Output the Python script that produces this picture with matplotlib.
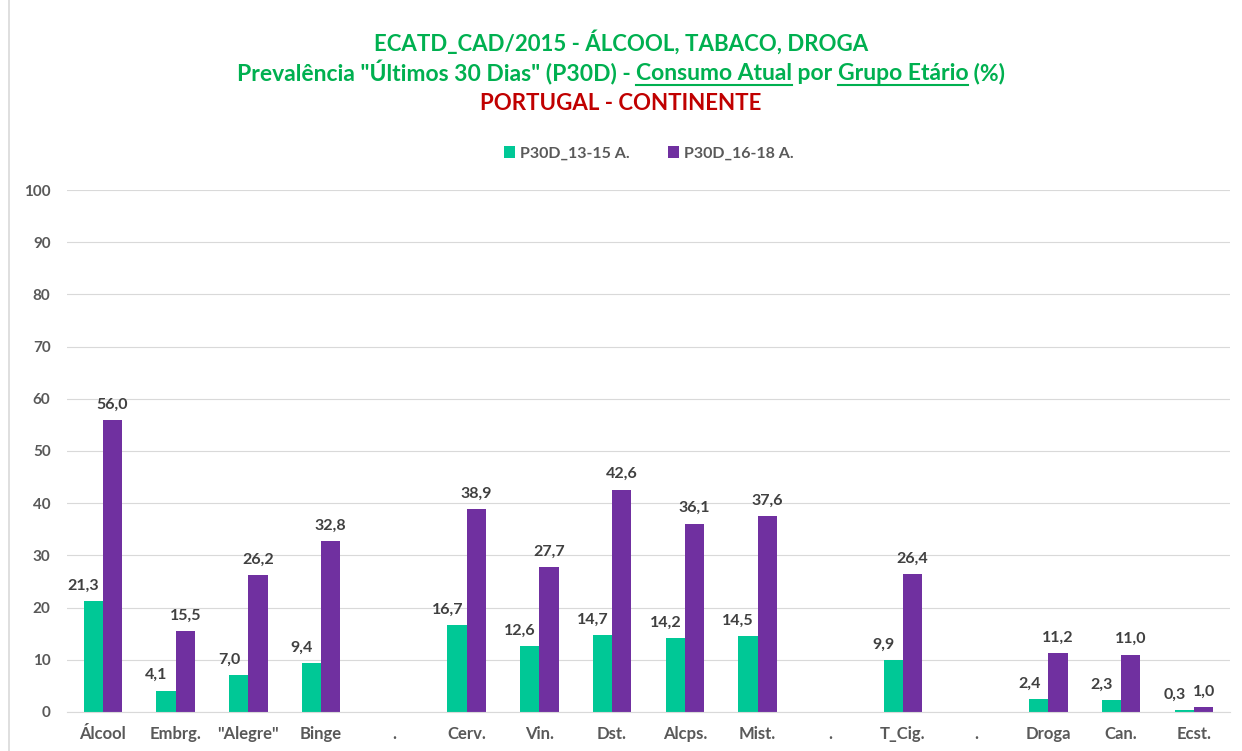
import matplotlib.pyplot as plt
import numpy as np
from matplotlib.lines import Line2D

plt.rcParams['font.family'] = ['Lato', 'DejaVu Sans']

# Data
categories = ['Álcool', 'Embrg.', '"Alegre"', 'Binge', '.', 'Cerv.', 'Vin.', 'Dst.',
              'Alcps.', 'Mist.', '.', 'T_Cig.', '.', 'Droga', 'Can.', 'Ecst.']
p30d_13_15 = [21.3, 4.1, 7.0, 9.4, np.nan, 16.7, 12.6, 14.7, 14.2, 14.5, np.nan, 9.9, np.nan, 2.4, 2.3, 0.3]
p30d_16_18 = [56.0, 15.5, 26.2, 32.8, np.nan, 38.9, 27.7, 42.6, 36.1, 37.6, np.nan, 26.4, np.nan, 11.2, 11.0, 1.0]
series_names = ['P30D_13-15 A.', 'P30D_16-18 A.']

teal = '#00C896'
purple = '#7030A0'
green = '#00B050'
red = '#C00000'
label_col = '#404040'
tick_col = '#595959'

fig = plt.figure(figsize=(12.42, 7.51), dpi=100)
ax = fig.add_axes([0.0536, 0.052, 0.937, 0.695])

x = np.arange(len(categories))
w = 0.265
ax.bar(x - w / 2, p30d_13_15, width=w, color=teal, label=series_names[0])
ax.bar(x + w / 2, p30d_16_18, width=w, color=purple, label=series_names[1])

# data labels
for xi, v in zip(x, p30d_13_15):
    if not np.isnan(v):
        ax.annotate(f'{v:.1f}'.replace('.', ','), (xi - w / 2, v), xytext=(-7, 6),
                    textcoords='offset points', ha='center', va='bottom',
                    fontsize=11.5, fontweight='bold', color=label_col)
for xi, v in zip(x, p30d_16_18):
    if not np.isnan(v):
        ax.annotate(f'{v:.1f}'.replace('.', ','), (xi + w / 2, v), xytext=(0, 6),
                    textcoords='offset points', ha='center', va='bottom',
                    fontsize=11.5, fontweight='bold', color=label_col)

ax.set_xlim(-0.5, len(categories) - 0.5)
ax.set_ylim(0, 100)
ax.set_yticks(np.arange(0, 101, 10))
ax.set_xticks(x)
ax.set_xticklabels(categories)
ax.tick_params(axis='both', length=0, colors=tick_col)
ax.tick_params(axis='x', pad=10, labelsize=12)
ax.tick_params(axis='y', pad=11.5, labelsize=11)
for lab in ax.get_xticklabels() + ax.get_yticklabels():
    lab.set_fontweight('bold')
ax.grid(axis='y', color='#D9D9D9', linewidth=0.8)
ax.set_axisbelow(True)
for s in ['top', 'right', 'left']:
    ax.spines[s].set_visible(False)
ax.spines['bottom'].set_color('#D9D9D9')

ax.legend(loc='center', bbox_to_anchor=(0.5, 1.07), ncol=2, frameon=False,
          handlelength=0.7, handleheight=0.7, columnspacing=2.4,
          handletextpad=0.3, labelcolor=tick_col, prop={'weight': 'bold', 'size': 11.5})

# titles
fig.text(0.5, 1 - 42 / 751, 'ECATD_CAD/2015 - ÁLCOOL, TABACO, DROGA', ha='center', va='center',
         fontsize=16, fontweight='bold', color=green)
fig.text(0.5, 1 - 104 / 751, 'PORTUGAL - CONTINENTE', ha='center', va='center',
         fontsize=16, fontweight='bold', color=red)

# second title line with underlined words
pieces = [('Prevalência "Últimos 30 Dias" (P30D) - ', False), ('Consumo Atual', True),
          (' por ', False), ('Grupo Etário', True), (' (%)', False)]
fig.canvas.draw()
renderer = fig.canvas.get_renderer()
texts = []
y2 = 1 - 73 / 751
for s, u in pieces:
    t = fig.text(0, y2, s, ha='left', va='center', fontsize=16.5, fontweight='bold', color=green)
    texts.append(t)
widths = [t.get_window_extent(renderer).width for t in texts]
total = sum(widths)
start = 1242 / 2 - total / 2
for t, wd, (s, u) in zip(texts, widths, pieces):
    t.set_x(start / 1242)
    if u:
        bb = t.get_window_extent(renderer)
        yl = (bb.y0 - 1) / 751
        fig.add_artist(Line2D([start / 1242, (start + wd) / 1242], [yl, yl],
                              color=green, linewidth=1.5, transform=fig.transFigure))
    start += wd

# left frame line
fig.add_artist(Line2D([9 / 1242, 9 / 1242], [0, 1], color='#D9D9D9', linewidth=1.2,
                      transform=fig.transFigure))

fig.savefig('out.png', dpi=100)
